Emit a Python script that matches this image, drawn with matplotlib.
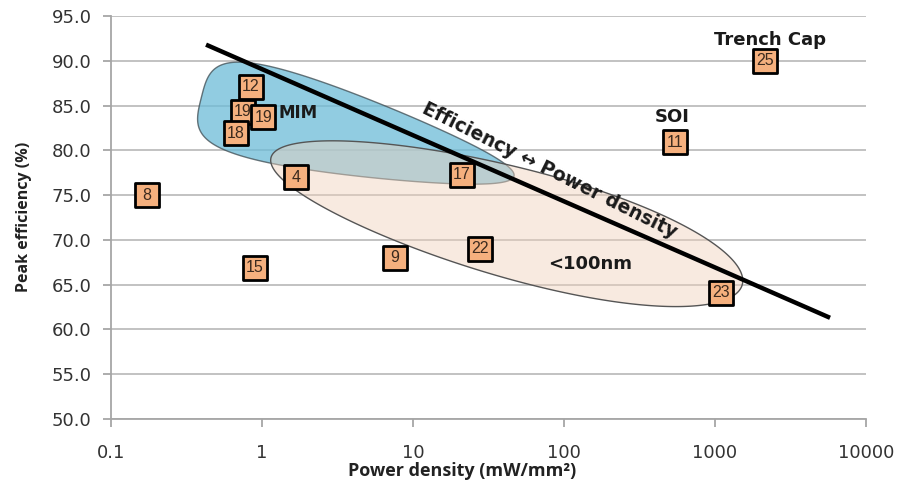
import numpy as np
import matplotlib
matplotlib.use("Agg")
import matplotlib.pyplot as plt
from matplotlib.ticker import FixedLocator, FixedFormatter, NullLocator

# Reference numbers with power density (mW/mm^2) and peak efficiency (%)
refs = ['12', '19', '19', '18', '8', '4', '15', '9', '17', '22', '23', '11', '25']
density = [0.845, 0.748, 1.02, 0.672, 0.173, 1.68, 0.90, 7.6, 21.0, 27.8, 1096, 543, 2140]
efficiency = [87.1, 84.3, 83.7, 81.9, 75.0, 77.0, 66.9, 68.0, 77.3, 69.0, 64.1, 80.9, 90.0]

# Trade-off line
trend_x = [0.426, 5780]
trend_y = [91.8, 61.3]

xticks = [0.1, 1, 10, 100, 1000, 10000]
xticklabels = ['0.1', '1', '10', '100', '1000', '10000']
yticks = [50, 55, 60, 65, 70, 75, 80, 85, 90, 95]

W, H = 898, 487
fig = plt.figure(figsize=(W / 100, H / 100), dpi=100)
ax = fig.add_axes([111 / W, 1 - 419 / H, (866 - 111) / W, (419 - 16) / H])
ax.set_xscale('log')
ax.set_xlim(0.1, 10000)
ax.set_ylim(50, 95)

# y units per decade so shapes are drawn in an even space
K = ((866 - 111) / 5) / ((419 - 16) / 45)


def blob(xc, yc, length, width, angle, k, gamma=1.0):
    p = np.cos(np.linspace(0, 2 * np.pi, 400))
    q = np.sin(np.linspace(0, 2 * np.pi, 400))
    s = length / 2 * (2 * ((p + 1) / 2) ** gamma - 1)
    r = width / 2 * q * (1 - k * p)
    a = np.radians(angle)
    du = s * np.cos(a) - r * np.sin(a)
    dv = s * np.sin(a) + r * np.cos(a)
    return 10 ** (np.log10(xc) + du / K), yc + dv


bx, by = blob(4.3, 81.5, 36.0, 10.1, -14.1, 0.3, 1.6)
ax.fill(bx, by, facecolor='#6cbcd8', alpha=0.75, edgecolor='#3d4a50', lw=1.0, zorder=2)
ox, oy = blob(41.7, 72.1, 54.5, 12.3, -15.1, -0.1)
ax.fill(ox, oy, facecolor='#f0d2bc', alpha=0.45, edgecolor='none', zorder=3)
ax.fill(ox, oy, facecolor='none', edgecolor='#555555', lw=1.0, zorder=3)

ax.plot(trend_x, trend_y, color='black', lw=3.2, solid_capstyle='butt', zorder=4)

for i, (lab, xv, yv) in enumerate(zip(refs, density, efficiency)):
    ax.scatter([xv], [yv], marker='s', s=295, facecolor='#f5b07e', edgecolor='black',
               linewidths=2.0, zorder=5 + 2 * i)
    ax.text(xv, yv, lab, ha='center', va='center', fontsize=11.5, color='#3b2a1e',
            family='Liberation Sans', zorder=6 + 2 * i)

bold = dict(family='DejaVu Sans', fontweight='bold', color='#1a1a1a')
ax.text(1.73, 84.2, 'MIM', fontsize=12, ha='center', va='center', zorder=40, **bold)
ax.text(519, 83.7, 'SOI', fontsize=13, ha='center', va='center', zorder=40, **bold)
ax.text(2310, 92.3, 'Trench Cap', fontsize=13, ha='center', va='center', zorder=40, **bold)
ax.text(149, 67.3, '<100nm', fontsize=13, ha='center', va='center', zorder=40, **bold)
ax.text(80, 77.8, 'Efficiency \u2194 Power density', fontsize=13.5, rotation=-26.5,
        rotation_mode='anchor', ha='center', va='center', zorder=40, **bold)

ax.xaxis.set_major_locator(FixedLocator(xticks))
ax.xaxis.set_major_formatter(FixedFormatter(xticklabels))
ax.xaxis.set_minor_locator(NullLocator())
ax.set_yticks(yticks)
ax.set_yticklabels(['%.1f' % v for v in yticks])

ax.grid(axis='y', color='#bdbdbd', lw=1.3, zorder=0)
ax.set_axisbelow(True)
for side in ['top', 'right']:
    ax.spines[side].set_visible(False)
for side in ['left', 'bottom']:
    ax.spines[side].set_color('#a6a6a6')
    ax.spines[side].set_linewidth(1.3)
ax.tick_params(axis='both', colors='#a6a6a6', width=1.3, length=6, labelcolor='#333333',
               labelsize=13)
for lab in ax.get_xticklabels() + ax.get_yticklabels():
    lab.set_family('DejaVu Sans')
ax.tick_params(axis='x', pad=12)
ax.tick_params(axis='y', pad=8)

ax.set_xlabel('Power density (mW/mm\u00b2)', fontsize=13, fontweight='bold',
              family='Open Sans', color='#222222')
ax.xaxis.set_label_coords((462 - 111) / (866 - 111), -(462 - 419) / (419 - 16))
ax.set_ylabel('Peak efficiency (%)', fontsize=11.5, fontweight='bold',
              family='Open Sans', color='#222222')
ax.yaxis.set_label_coords(-(111 - 32) / (866 - 111), (419 - 217) / (419 - 16))

fig.savefig('out.png', dpi=100)
